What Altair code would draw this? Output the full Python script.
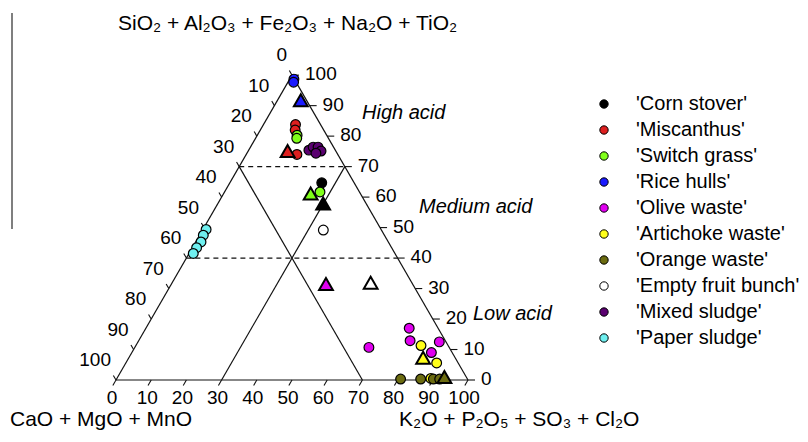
import altair as alt
import pandas as pd

SQ = 0.8660254

# ---------------- data ----------------
series = ["'Corn stover'", "'Miscanthus'", "'Switch grass'", "'Rice hulls'",
          "'Olive waste'", "'Artichoke waste'", "'Orange waste'",
          "'Empty fruit bunch'", "'Mixed sludge'", "'Paper sludge'"]
colors = ["#000000", "#dd1f1f", "#80ff1a", "#1a1aff", "#e000f0",
          "#ffff1a", "#6b6b10", "#ffffff", "#5a0070", "#6ff0f0"]

# individual samples (circles): series index, top % (SiO2 group), right % (K2O group)
circ_series = [0, 1, 1, 1, 2, 2, 2, 3, 3, 4, 4, 4, 4, 4, 5, 5, 5, 6, 6, 6, 6, 7,
               8, 8, 8, 8, 8, 9, 9, 9, 9, 9]
circ_top = [64.7, 83.8, 82.0, 74.0, 80.3, 79.3, 61.7, 98.7, 97.7,
            17.0, 12.9, 10.7, 12.5, 9.0, 11.3, 5.6, 0.5,
            0.3, 0.3, 0.3, 0.3, 49.2,
            75.4, 76.4, 76.4, 75.1, 74.4,
            49.4, 47.5, 45.3, 43.4, 41.5]
circ_right = [26.1, 9.1, 9.9, 14.4, 11.3, 11.7, 27.1, 1.2, 1.6,
              74.8, 77.1, 66.5, 85.6, 85.1, 81.0, 88.3, 89.2,
              80.7, 86.4, 90.0, 91.8, 34.3,
              17.1, 17.8, 19.2, 20.7, 19.6,
              0.9, 1.05, 1.5, 1.2, 1.2]

# averages (triangles)
tri_series = [0, 1, 2, 3, 4, 5, 6, 7]
tri_top = [57.9, 75.1, 61.2, 91.8, 31.5, 7.3, 1.0, 31.9]
tri_right = [29.9, 11.2, 24.7, 6.6, 43.9, 83.6, 92.8, 56.4]

tick_vals = [0, 10, 20, 30, 40, 50, 60, 70, 80, 90, 100]

# guide lines in ternary terms: (top1, right1, top2, right2)
edge_lines = [(100, 0, 0, 0), (0, 0, 0, 100), (0, 100, 100, 0),
              (70, 0, 0, 70), (70, 30, 0, 30)]
dash_lines = [(70, 0, 70, 30), (40, 0, 40, 60)]

title_top = "SiO₂ + Al₂O₃ + Fe₂O₃ + Na₂O + TiO₂"
title_left = "CaO + MgO + MnO"
title_right = "K₂O + P₂O₅ + SO₃ + Cl₂O"
zone_labels = ["High acid", "Medium acid", "Low acid"]

# ---------------- tables ----------------
def tx(top, right):
    return right + top / 2.0

def ty(top):
    return top * SQ

circ_df = pd.DataFrame({"series": [series[i] for i in circ_series],
                        "top": circ_top, "right": circ_right})
tri_df = pd.DataFrame({"series": [series[i] for i in tri_series],
                       "top": tri_top, "right": tri_right})

def lines_df(lines):
    return pd.DataFrame([{"x": tx(a1, b1), "y": ty(a1), "x2": tx(a2, b2), "y2": ty(a2)}
                         for a1, b1, a2, b2 in lines])

rows_r, rows_l, rows_b = [], [], []
for t in tick_vals:
    x, y = tx(t, 100 - t), ty(t)
    rows_r.append({"x": x, "y": y, "x2": x + 2.0, "y2": y, "lab": str(t)})
    x, y = tx(100 - t, 0), ty(100 - t)
    rows_l.append({"x": x, "y": y, "x2": x - 0.75, "y2": y + 1.3, "lab": str(t)})
    x, y = tx(0, t), 0.0
    rows_b.append({"x": x, "y": y, "x2": x - 0.9, "y2": y - 1.56, "lab": str(t)})
tr, tl, tb = pd.DataFrame(rows_r), pd.DataFrame(rows_l), pd.DataFrame(rows_b)

XS = alt.Scale(domain=[-30.682, 194.318], nice=False, zero=False)
YS = alt.Scale(domain=[-15.341, 105.682], nice=False, zero=False)
FONT = "Liberation Sans"

def enc_xy():
    return dict(x=alt.X("x:Q", scale=XS, axis=None), y=alt.Y("y:Q", scale=YS, axis=None))

def rule_layer(df, dash=None, width=1.2):
    kw = dict(color="#111111", strokeWidth=width)
    if dash:
        kw["strokeDash"] = dash
    return alt.Chart(df).mark_rule(**kw).encode(x2="x2:Q", y2="y2:Q", **enc_xy())

layers = []
layers.append(rule_layer(lines_df(edge_lines)))
layers.append(rule_layer(lines_df(dash_lines), dash=[5, 4]))
for d in (tr, tl, tb):
    layers.append(rule_layer(d, width=1.1))

layers.append(alt.Chart(tr).mark_text(font=FONT, fontSize=19, align="left", baseline="middle",
                                      dx=13, dy=-1, color="black").encode(text="lab:N", **enc_xy()))
layers.append(alt.Chart(tl).mark_text(font=FONT, fontSize=19, align="right", baseline="middle",
                                      dx=-5, dy=-20, color="black").encode(text="lab:N", **enc_xy()))
layers.append(alt.Chart(tb).mark_text(font=FONT, fontSize=19, align="center", baseline="middle",
                                      dx=-4, dy=18, color="black").encode(text="lab:N", **enc_xy()))

fill_enc = alt.Fill("series:N", scale=alt.Scale(domain=series, range=colors),
                    sort=series,
                    legend=alt.Legend(title=None, orient="none", legendX=586, legendY=86,
                                      symbolType="circle", symbolSize=70,
                                      symbolStrokeColor="black", symbolStrokeWidth=1,
                                      symbolOpacity=1,
                                      labelFont=FONT, labelFontSize=20, labelColor="black",
                                      labelOffset=22, rowPadding=6, labelLimit=400))

calc = dict(x="datum.right + datum.top / 2", y="datum.top * 0.8660254")
layers.append(alt.Chart(circ_df).transform_calculate(**calc).mark_point(
    shape="circle", filled=True, size=95, stroke="black", strokeWidth=1.2, opacity=1
).encode(fill=fill_enc, **enc_xy()))
layers.append(alt.Chart(tri_df).transform_calculate(**calc).mark_point(
    shape="triangle-up", filled=True, size=190, stroke="black", strokeWidth=2, opacity=1
).encode(fill=fill_enc, **enc_xy()))

one = pd.DataFrame({"k": [0]})

def free_text(txt, x, y, size=21, align="left", style="normal"):
    return alt.Chart(one).mark_text(text=txt, font=FONT, fontSize=size, align=align,
                                    baseline="middle", fontStyle=style, color="black"
                                    ).encode(x=alt.value(x), y=alt.value(y))

layers.append(free_text(title_top, 110, 16))
layers.append(free_text(title_left, 2, 412))
layers.append(free_text(title_right, 391, 412))
layers.append(free_text(zone_labels[0], 354, 105, size=20, style="italic"))
layers.append(free_text(zone_labels[1], 411, 199, size=20, style="italic"))
layers.append(free_text(zone_labels[2], 465, 306, size=20, style="italic"))
layers.append(alt.Chart(one).mark_rule(color="#555555", strokeWidth=1.5).encode(
    x=alt.value(4), y=alt.value(5), y2=alt.value(221)))

chart = alt.layer(*layers).properties(
    width=792, height=426, autosize=alt.AutoSizeParams(type="none"), padding=0,
    background="white"
).configure_view(stroke=None)

chart.save("out.html", embed_options={"renderer": "svg", "actions": False})
